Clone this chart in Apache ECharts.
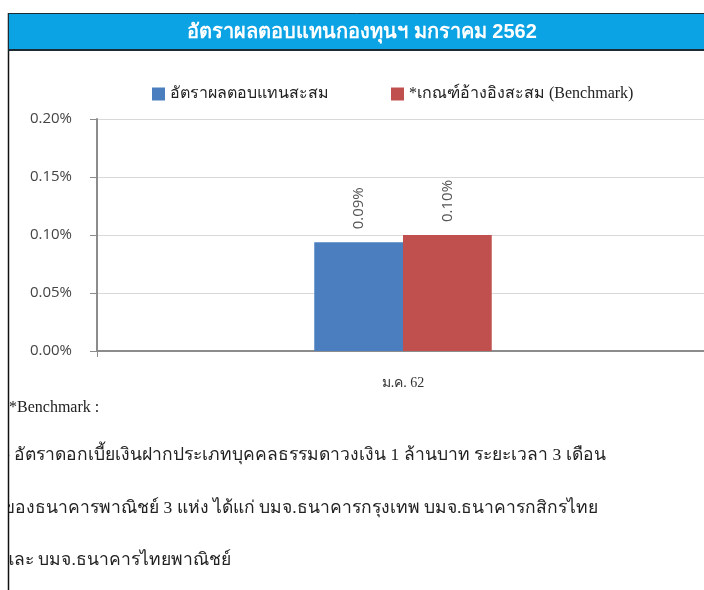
<!DOCTYPE html>
<html>
<head>
<meta charset="utf-8">
<script src="https://cdn.jsdelivr.net/npm/echarts@6/dist/echarts.min.js"></script>
<style>
html,body{margin:0;padding:0;background:#fff;}
#chart{width:704px;height:590px;}
</style>
</head>
<body>
<div id="chart"></div>
<script>
// Fund return vs benchmark, January 2562 (values in %)
const categories = ['ม.ค. 62'];
const fundReturn = [0.0937];
const benchmarkReturn = [0.10];
const seriesNames = ['อัตราผลตอบแทนสะสม', '*เกณฑ์อ้างอิงสะสม (Benchmark)'];
const yAxisMin = 0;
const yAxisMax = 0.20;
const yAxisStep = 0.05;

const titleText = 'อัตราผลตอบแทนกองทุนฯ มกราคม 2562';
const noteLines = [
  '*Benchmark :',
  '- อัตราดอกเบี้ยเงินฝากประเภทบุคคลธรรมดาวงเงิน 1 ล้านบาท ระยะเวลา 3 เดือน',
  'ของธนาคารพาณิชย์ 3 แห่ง ได้แก่ บมจ.ธนาคารกรุงเทพ บมจ.ธนาคารกสิกรไทย',
  'และ บมจ.ธนาคารไทยพาณิชย์'
];

const chart = echarts.init(document.getElementById('chart'), null, {renderer: 'canvas'});
const pct = v => v.toFixed(2) + '%';
const serif = "'Liberation Serif', 'DejaVu Serif', serif";
const sans = "'Open Sans', sans-serif";

const noteY = [408, 455, 508, 560];
const noteX = [9, 4, 3, 3];
const noteSize = [16, 17.5, 17.5, 17.5];

const valueLabel = {
  show: true, position: 'top', rotate: 90, distance: 13,
  align: 'left', verticalAlign: 'middle',
  formatter: p => pct(p.value),
  fontFamily: sans, fontSize: 15, color: '#555'
};

const option = {
  animation: false,
  backgroundColor: '#ffffff',
  color: ['#4a7ebe', '#c0504d'],
  legend: {
    top: 81,
    left: 147,
    itemWidth: 13,
    itemHeight: 13,
    itemGap: 62,
    icon: 'rect',
    textStyle: {fontFamily: serif, fontSize: 16, color: '#222'},
    data: seriesNames
  },
  // plot area runs slightly past the right edge of the canvas
  grid: {left: 97, width: 612, top: 119, bottom: 239, outerBoundsMode: 'none', containLabel: false},
  xAxis: {
    type: 'category',
    data: categories,
    axisLine: {lineStyle: {color: '#8c8c8c', width: 2}},
    axisTick: {show: true, length: 6, lineStyle: {color: '#8c8c8c'}},
    axisLabel: {margin: 25, fontFamily: serif, fontSize: 14, color: '#333'}
  },
  yAxis: {
    type: 'value',
    min: yAxisMin,
    max: yAxisMax,
    interval: yAxisStep,
    axisLine: {show: true, lineStyle: {color: '#8c8c8c', width: 2}},
    axisTick: {show: true, length: 7, lineStyle: {color: '#8c8c8c'}},
    axisLabel: {margin: 25, formatter: pct, fontFamily: sans, fontSize: 15, color: '#444'},
    splitLine: {lineStyle: {color: '#d9d9d9', width: 1}}
  },
  series: [
    {
      name: seriesNames[0],
      type: 'bar',
      data: fundReturn,
      barGap: '0%',
      barCategoryGap: '71%',
      label: valueLabel
    },
    {
      name: seriesNames[1],
      type: 'bar',
      data: benchmarkReturn,
      label: valueLabel
    }
  ],
  graphic: [
    // title banner
    {type: 'rect', shape: {x: 8.5, y: 13.5, width: 700, height: 37},
     style: {fill: '#0ba3e4', stroke: '#1b2a33', lineWidth: 1}, z: 10},
    {type: 'line', shape: {x1: 8, y1: 50, x2: 704, y2: 50},
     style: {stroke: '#1b2a33', lineWidth: 2}, z: 11},
    {type: 'text', x: 362, y: 32, z: 12,
     style: {text: titleText, fill: '#ffffff', font: "bold 20px 'Liberation Sans', 'Noto Sans', sans-serif",
             textAlign: 'center', textVerticalAlign: 'middle'}},
    // footnote
    ...noteLines.map((t, i) => ({
      type: 'text', x: noteX[i], y: noteY[i], z: 5,
      style: {text: t, fill: '#222', font: noteSize[i] + "px " + serif, textVerticalAlign: 'middle'}
    })),
    // left frame edge
    {type: 'rect', shape: {x: 0, y: 13, width: 8, height: 577}, style: {fill: '#ffffff'}, z: 8},
    {type: 'line', shape: {x1: 8.5, y1: 13, x2: 8.5, y2: 590},
     style: {stroke: '#111', lineWidth: 1.5}, z: 9}
  ]
};
chart.setOption(option);
</script>
</body>
</html>
